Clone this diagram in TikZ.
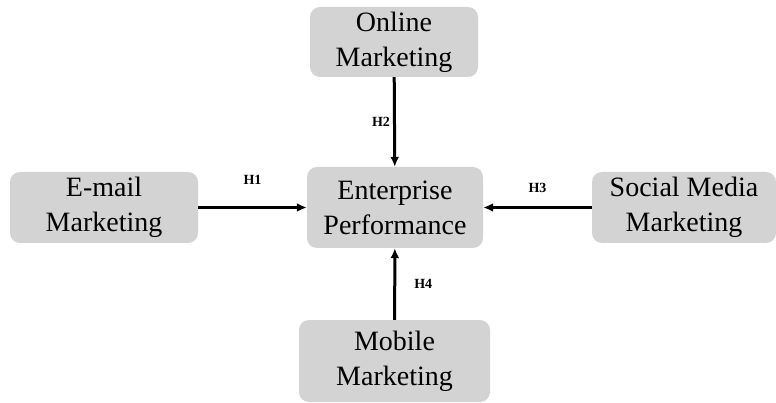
\documentclass[tikz,border=0pt]{standalone}
\usepackage{fontspec}
\setmainfont{Liberation Serif}
\usetikzlibrary{arrows.meta}
\definecolor{boxgray}{RGB}{211,211,211}
\begin{document}
\begin{tikzpicture}[
    x=1pt,y=-1pt,
    factor/.style={fill=boxgray,rounded corners=10pt,align=center,inner sep=0pt,
        font=\fontsize{28}{35}\selectfont},
    hyp/.style={-{Latex[length=10pt,width=9pt]},line width=3pt},
    hlabel/.style={inner sep=0pt,font=\fontsize{14}{16}\selectfont\bfseries}
]
\useasboundingbox (0,0) rectangle (776,403);

\node[factor,minimum width=176pt,minimum height=81pt] (perf)   at (395,207.5) {Enterprise\\Performance};
\node[factor,minimum width=168pt,minimum height=70pt] (online) at (394,42)    {Online\\Marketing};
\node[factor,minimum width=188pt,minimum height=71pt] (email)  at (104,207.5) {E-mail\\Marketing};
\node[factor,minimum width=184pt,minimum height=71pt] (social) at (684,207.5) {Social Media\\Marketing};
\node[factor,minimum width=191pt,minimum height=82pt] (mobile) at (394.5,361) {Mobile\\Marketing};

\draw[hyp] (email)  -- node[hlabel,above=21pt] {H1} (perf);
\draw[hyp] (online) -- node[hlabel,left=3pt]   {H2} (perf);
\draw[hyp] (social) -- node[hlabel,above=13pt] {H3} (perf);
\draw[hyp] (mobile) -- node[hlabel,right=18pt] {H4} (perf);
\end{tikzpicture}
\end{document}
